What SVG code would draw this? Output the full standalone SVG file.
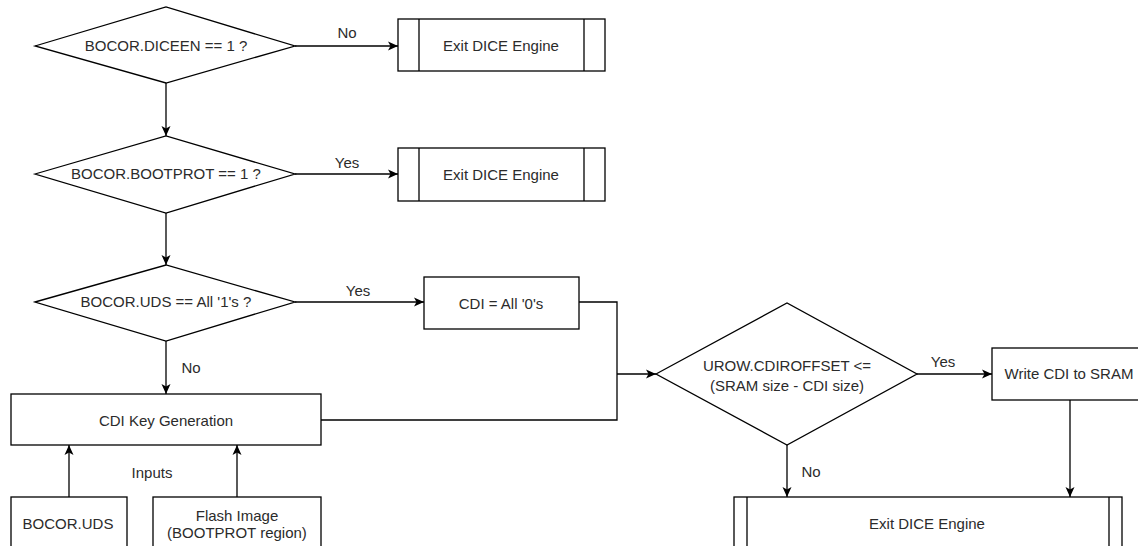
<svg xmlns="http://www.w3.org/2000/svg" width="1138" height="546" viewBox="0 0 1138 546">
  <style>
    .shape { fill: #ffffff; stroke: #000000; stroke-width: 1.3; }
    .edge { fill: none; stroke: #000000; stroke-width: 1.3; }
    .arrow { marker-end: url(#head); }
    text { font-family: "Liberation Sans", Arial, Helvetica, sans-serif; font-size: 15px; fill: #2b2b2b; text-anchor: middle; }
  </style>
  <defs>
    <marker id="head" markerUnits="userSpaceOnUse" markerWidth="11" markerHeight="10" refX="10" refY="5" orient="auto">
      <path d="M0,0.5 L10,5 L0,9.5 L2.5,5 Z" fill="#000000"/>
    </marker>
  </defs>
  <rect width="1138" height="546" fill="#ffffff"/>

  <!-- connectors -->
  <g id="connectors">
    <line class="edge arrow" x1="295" y1="46" x2="398" y2="46"/>
    <line class="edge arrow" x1="166" y1="83" x2="166" y2="136"/>
    <line class="edge arrow" x1="295" y1="174" x2="398" y2="174"/>
    <line class="edge arrow" x1="166" y1="213" x2="166" y2="265"/>
    <line class="edge arrow" x1="295" y1="302" x2="424" y2="302"/>
    <line class="edge arrow" x1="166" y1="341" x2="166" y2="394"/>
    <polyline class="edge" points="579,302 617,302 617,420 321,420"/>
    <line class="edge arrow" x1="617" y1="374" x2="656" y2="374"/>
    <line class="edge arrow" x1="69" y1="497" x2="69" y2="445"/>
    <line class="edge arrow" x1="237" y1="497" x2="237" y2="445"/>
    <line class="edge arrow" x1="917" y1="374" x2="992" y2="374"/>
    <line class="edge arrow" x1="787" y1="445" x2="787" y2="497"/>
    <line class="edge arrow" x1="1070" y1="400" x2="1070" y2="497"/>
    <text x="347" y="38">No</text>
    <text x="347" y="168">Yes</text>
    <text x="358" y="296">Yes</text>
    <text x="191" y="373">No</text>
    <text x="152" y="478">Inputs</text>
    <text x="943" y="367">Yes</text>
    <text x="811" y="477">No</text>
  </g>

  <g id="check-diceen">
    <polygon class="shape" points="35,46 166,7 295,46 166,83"/>
    <text x="166" y="51">BOCOR.DICEEN == 1 ?</text>
  </g>
  <g id="exit-1">
    <rect class="shape" x="398" y="19" width="207" height="52"/>
    <line class="edge" x1="419" y1="19" x2="419" y2="71"/>
    <line class="edge" x1="584" y1="19" x2="584" y2="71"/>
    <text x="501" y="51">Exit DICE Engine</text>
  </g>

  <g id="check-bootprot">
    <polygon class="shape" points="35,174 166,136 295,174 166,213"/>
    <text x="166" y="179">BOCOR.BOOTPROT == 1 ?</text>
  </g>
  <g id="exit-2">
    <rect class="shape" x="398" y="148" width="207" height="53"/>
    <line class="edge" x1="419" y1="148" x2="419" y2="201"/>
    <line class="edge" x1="584" y1="148" x2="584" y2="201"/>
    <text x="501" y="180">Exit DICE Engine</text>
  </g>

  <g id="check-uds">
    <polygon class="shape" points="35,302 166,265 295,302 166,341"/>
    <text x="166" y="307">BOCOR.UDS == All '1's ?</text>
  </g>
  <g id="cdi-zero">
    <rect class="shape" x="424" y="277" width="155" height="52"/>
    <text x="501" y="309">CDI = All '0's</text>
  </g>

  <g id="cdi-keygen">
    <rect class="shape" x="11" y="394" width="310" height="51"/>
    <text x="166" y="426">CDI Key Generation</text>
  </g>
  <g id="input-uds">
    <rect class="shape" x="11" y="497" width="116" height="54"/>
    <text x="68" y="529">BOCOR.UDS</text>
  </g>
  <g id="input-flash">
    <rect class="shape" x="153" y="497" width="168" height="54"/>
    <text x="237" y="521">Flash Image</text>
    <text x="237" y="538">(BOOTPROT region)</text>
  </g>

  <g id="check-offset">
    <polygon class="shape" points="656,374 787,303 917,374 787,445"/>
    <text x="787" y="371">UROW.CDIROFFSET &lt;=</text>
    <text x="787" y="391">(SRAM size - CDI size)</text>
  </g>
  <g id="write-sram">
    <rect class="shape" x="992" y="348" width="154" height="52"/>
    <text x="1069" y="379">Write CDI to SRAM</text>
  </g>
  <g id="exit-3">
    <rect class="shape" x="734" y="497" width="388" height="54"/>
    <line class="edge" x1="747" y1="497" x2="747" y2="551"/>
    <line class="edge" x1="1109" y1="497" x2="1109" y2="551"/>
    <text x="927" y="529">Exit DICE Engine</text>
  </g>
</svg>
